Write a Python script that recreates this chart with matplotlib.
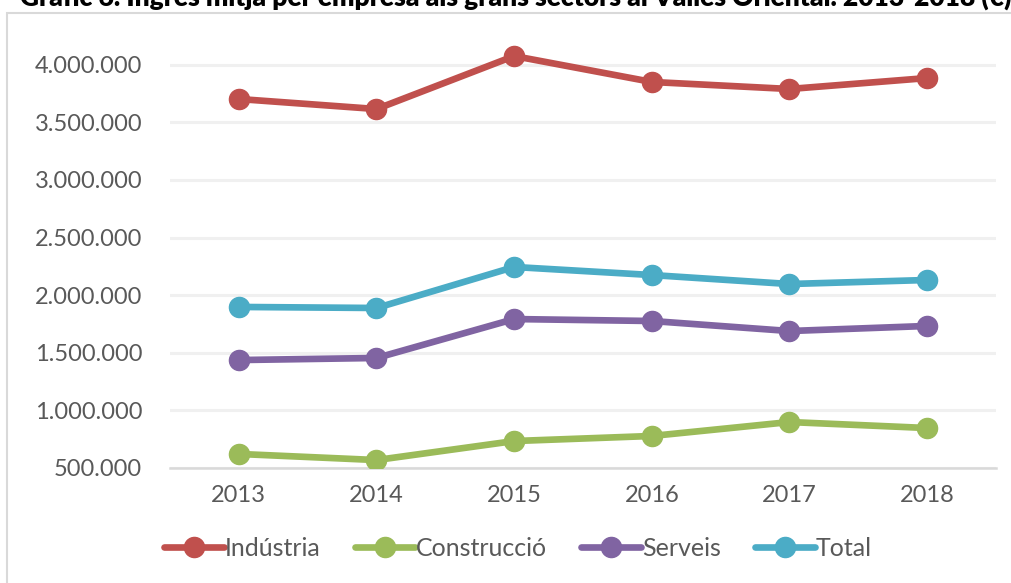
import matplotlib
matplotlib.use("Agg")
import matplotlib.pyplot as plt
from matplotlib.patches import Rectangle
from matplotlib.ticker import FuncFormatter

years = ["2013", "2014", "2015", "2016", "2017", "2018"]
industria = [3703000, 3616000, 4076000, 3851000, 3790000, 3885000]
construccio = [622000, 569000, 734000, 778000, 899000, 847000]
serveis = [1437000, 1455000, 1793000, 1776000, 1689000, 1733000]
total = [1898000, 1889000, 2245000, 2175000, 2097000, 2132000]
series_names = ["Indústria", "Construcció", "Serveis", "Total"]
colors = ["#C0504D", "#9BBB59", "#8064A2", "#4BACC6"]
title = "Gràfic 6. Ingrés mitjà per empresa als grans sectors al Vallès Oriental. 2013-2018 (€)"

plt.rcParams['font.family'] = ['Lato', 'DejaVu Sans']

W, H = 1011, 583
fig = plt.figure(figsize=(W / 100, H / 100), dpi=100)
fig.patch.set_facecolor("white")

# outer border (chart area frame)
fig.patches.append(Rectangle((7 / W, -0.05), 1.2, 1 - 13 / H + 0.05, transform=fig.transFigure,
                             fill=False, edgecolor="#D9D9D9", linewidth=1.5))
# title, cut by the top edge
fig.text(20 / W, 1 - 6 / H, title, fontsize=19, fontweight="heavy", color="black",
         ha="left", va="baseline")

ymin, ymax = 500000, 4350000
px_per_unit = 57.6 / 500000
bottom_px = 468
top_px = bottom_px - (ymax - ymin) * px_per_unit
ax = fig.add_axes([170 / W, 1 - bottom_px / H, (996 - 170) / W, (bottom_px - top_px) / H])
ax.set_facecolor("none")

x = list(range(len(years)))
for name, vals, c in zip(series_names, [industria, construccio, serveis, total], colors):
    ax.plot(x, vals, color=c, linewidth=4.8, marker="o", markersize=14.5,
            solid_capstyle="round", label=name, zorder=3)

ax.set_xlim(-0.5, len(years) - 0.5)
ax.set_ylim(ymin, ymax)
ax.set_yticks(range(500000, 4000001, 500000))
ax.yaxis.set_major_formatter(FuncFormatter(lambda v, p: f"{int(v):,}".replace(",", ".")))
ax.set_xticks(x)
ax.set_xticklabels(years)
ax.grid(axis="y", color="#F0F0F0", linewidth=2.2, zorder=0)
ax.set_axisbelow(True)
for s in ["top", "right", "left"]:
    ax.spines[s].set_visible(False)
ax.spines["bottom"].set_color("#D9D9D9")
ax.spines["bottom"].set_linewidth(1.8)
ax.spines["bottom"].set_zorder(1)
ax.tick_params(axis="both", length=0, labelsize=17, labelcolor="#595959")
ax.tick_params(axis="y", pad=20)
ax.tick_params(axis="x", pad=12)

leg = fig.legend(loc="center", bbox_to_anchor=(518 / W, 1 - 548 / H), ncol=4, frameon=False,
                 fontsize=18, handlelength=2.4, handletextpad=0.05, columnspacing=1.35,
                 labelcolor="#595959")

fig.savefig("out.png", dpi=100)
